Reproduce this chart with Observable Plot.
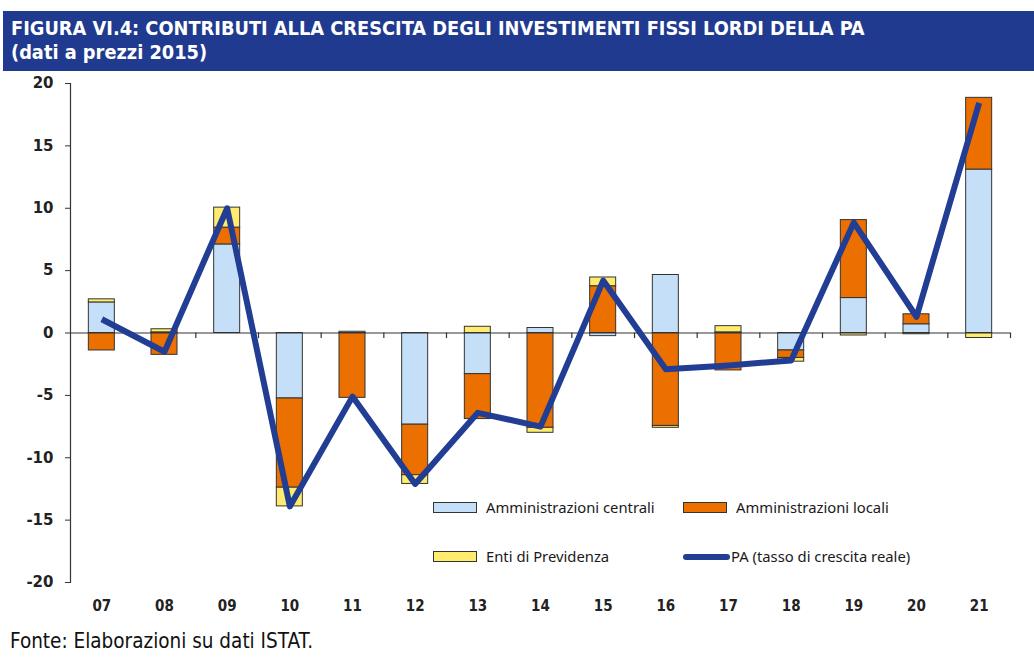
<!DOCTYPE html>
<html>
<head>
<meta charset="utf-8">
<script src="https://cdn.jsdelivr.net/npm/d3@7"></script>
<script src="https://cdn.jsdelivr.net/npm/@observablehq/plot@0.6"></script>
<style>
  html, body { margin: 0; padding: 0; background: #fff; }
  #page { position: relative; width: 1034px; height: 657px; overflow: hidden; }
  #banner { position: absolute; left: 3px; top: 11px; width: 1031px; height: 60px; background: #1f3a8e; }
  #banner div { position: absolute; left: 8px; color: #fff; font-family: "DejaVu Sans Condensed", "Liberation Sans Narrow", sans-serif; font-weight: bold; font-size: 19.8px; white-space: nowrap; }
  #chart { position: absolute; left: 0; top: 70px; }
  #caption { position: absolute; left: 10px; top: 629px; font-family: "DejaVu Sans Condensed", "Liberation Sans Narrow", sans-serif; font-size: 20.5px; color: #111; white-space: nowrap; }
  .leg { position: absolute; font-family: "Noto Sans", "Open Sans", sans-serif; font-size: 14.8px; color: #1a1a1a; white-space: nowrap; }
  .sw { position: absolute; width: 44px; height: 11px; border: 1px solid #333; box-sizing: border-box; }
  .ln { position: absolute; width: 47px; height: 6px; border-radius: 3px; background: #213d94; }
</style>
</head>
<body>
<div id="page">
  <div id="banner">
    <div style="top:6px">FIGURA VI.4: CONTRIBUTI ALLA CRESCITA DEGLI INVESTIMENTI FISSI LORDI DELLA PA</div>
    <div style="top:30px">(dati a prezzi 2015)</div>
  </div>
  <div id="chart"></div>
  <div id="legend"></div>
  <div id="caption">Fonte: Elaborazioni su dati ISTAT.</div>
</div>
<script>
const years = ["07","08","09","10","11","12","13","14","15","16","17","18","19","20","21"];
const central = [2.45, 0.05, 7.1, -5.25, 0.1, -7.35, -3.3, 0.4, -0.25, 4.65, 0.05, -1.4, 2.8, 0.7, 13.1];
const local   = [-1.4, -1.75, 1.35, -7.15, -5.2, -4.05, -3.6, -7.6, 3.75, -7.45, -3.0, -0.6, 6.25, 0.8, 5.75];
const enti    = [0.25, 0.25, 1.6, -1.5, 0, -0.7, 0.5, -0.4, 0.7, -0.15, 0.5, -0.3, -0.2, -0.1, -0.4];
const pa      = [1.1, -1.5, 10.0, -13.9, -5.1, -12.1, -6.4, -7.5, 4.2, -2.9, -2.6, -2.2, 8.85, 1.3, 18.45];
const series = ["Amministrazioni centrali", "Amministrazioni locali", "Enti di Previdenza"];
const lineLabel = "PA (tasso di crescita reale)";
const colors = ["#c5dff8", "#ec7000", "#ffec6e"];
const lineColor = "#213d94";
const yTicks = [-20, -15, -10, -5, 0, 5, 10, 15, 20];

const rows = years.flatMap((y, i) => [
  {year: y, s: series[0], v: central[i]},
  {year: y, s: series[1], v: local[i]},
  {year: y, s: series[2], v: enti[i]}
]);
const paRows = years.map((y, i) => ({year: y, v: pa[i]}));

const W = 1034, H = 560, mL = 70, mR = 24, mT = 13, mB = 48;
const step = (W - mL - mR) / years.length;
const pad = 0.585;

const chart = Plot.plot({
  width: W, height: H,
  marginLeft: mL, marginRight: mR, marginTop: mT, marginBottom: mB,
  x: {domain: years, paddingInner: pad, paddingOuter: pad / 2, round: false, axis: null},
  y: {domain: [-20, 20], axis: null},
  color: {domain: series, range: colors},
  style: {background: "transparent"},
  marks: [
    Plot.barY(rows, {x: "year", y: "v", fill: "s", stroke: "#333", strokeWidth: 1}),
    Plot.ruleY([0], {stroke: "#333", strokeWidth: 1.2}),
    Plot.ruleX(years, {x: d => d, y1: 0, y2: -0.45, dx: step / 2, stroke: "#333", strokeWidth: 1.2}),
    Plot.line(paRows, {x: "year", y: "v", stroke: lineColor, strokeWidth: 6, strokeLinejoin: "round", strokeLinecap: "butt"}),
    Plot.frame({anchor: "left", stroke: "#333", strokeWidth: 1.2}),
    Plot.axisY({ticks: yTicks, tickSize: 5, tickPadding: 12, tickFormat: d => String(d), stroke: "#333",
      fontFamily: "DejaVu Sans, sans-serif", fontWeight: "bold", fontSize: 15, fill: "#222", label: null}),
    Plot.axisX({anchor: "bottom", tickSize: 0, tickPadding: 18, fontFamily: "DejaVu Sans Condensed, sans-serif",
      fontWeight: "bold", fontSize: 15, fill: "#222", label: null})
  ]
});
document.getElementById("chart").appendChild(chart);

// Legend
const leg = document.getElementById("legend");
const items = [
  {label: series[0], color: colors[0], x: 433, y: 502, type: "box"},
  {label: series[1], color: colors[1], x: 683, y: 502, type: "box"},
  {label: series[2], color: colors[2], x: 433, y: 551, type: "box"},
  {label: lineLabel, color: lineColor, x: 683, y: 551, type: "line"}
];
for (const it of items) {
  const s = document.createElement("div");
  if (it.type === "box") {
    s.className = "sw"; s.style.left = it.x + "px"; s.style.top = it.y + "px"; s.style.background = it.color;
  } else {
    s.className = "ln"; s.style.left = it.x + "px"; s.style.top = (it.y + 3) + "px";
  }
  leg.appendChild(s);
  const t = document.createElement("div");
  t.className = "leg"; t.textContent = it.label;
  t.style.left = (it.x + (it.type === "box" ? 53 : 48)) + "px"; t.style.top = (it.y - 5) + "px";
  leg.appendChild(t);
}
</script>
</body>
</html>
